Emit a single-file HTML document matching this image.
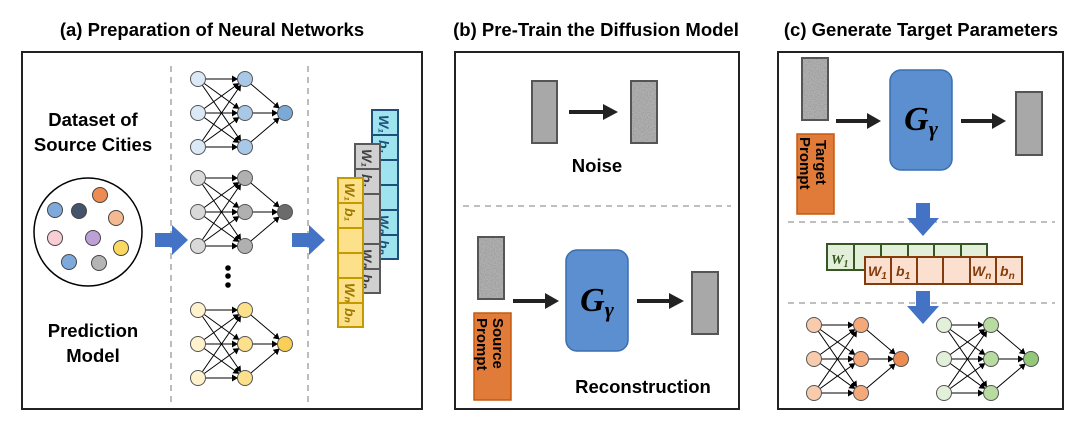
<!DOCTYPE html>
<html><head><meta charset="utf-8"><style>
html,body{margin:0;padding:0;background:#fff}
svg{display:block}
text{font-family:"Liberation Sans",sans-serif}
.t{font-weight:bold;font-size:18.5px;text-anchor:middle}
.m{font-family:"Liberation Serif",serif;font-style:italic;font-weight:bold}
</style></head><body>
<svg width="1080" height="427" viewBox="0 0 1080 427" xmlns="http://www.w3.org/2000/svg">
<defs>
<filter id="nz" x="0" y="0" width="100%" height="100%">
<feTurbulence type="fractalNoise" baseFrequency="0.8" numOctaves="2" seed="3"/>
<feColorMatrix type="matrix" values="0 0 0 0 0.35  0 0 0 0 0.35  0 0 0 0 0.35  0 0 0 -4 2.4"/>
</filter>
<marker id="ah" markerUnits="userSpaceOnUse" markerWidth="8" markerHeight="8" refX="13" refY="3.5" orient="auto">
<path d="M0,0 L6,3.5 L0,7 z" fill="#000"/>
</marker>
<g id="net" stroke="#000" stroke-width="1" fill="none">
<line x1="0" y1="-34" x2="47" y2="-34" marker-end="url(#ah)"/>
<line x1="0" y1="-34" x2="47" y2="0" marker-end="url(#ah)"/>
<line x1="0" y1="-34" x2="47" y2="34" marker-end="url(#ah)"/>
<line x1="0" y1="0" x2="47" y2="-34" marker-end="url(#ah)"/>
<line x1="0" y1="0" x2="47" y2="0" marker-end="url(#ah)"/>
<line x1="0" y1="0" x2="47" y2="34" marker-end="url(#ah)"/>
<line x1="0" y1="34" x2="47" y2="-34" marker-end="url(#ah)"/>
<line x1="0" y1="34" x2="47" y2="0" marker-end="url(#ah)"/>
<line x1="0" y1="34" x2="47" y2="34" marker-end="url(#ah)"/>
<line x1="47" y1="-34" x2="87" y2="0" marker-end="url(#ah)"/>
<line x1="47" y1="0" x2="87" y2="0" marker-end="url(#ah)"/>
<line x1="47" y1="34" x2="87" y2="0" marker-end="url(#ah)"/>
</g>
<g id="noise"><rect x="0" y="0" width="26" height="62" fill="#b0b0b0"/><rect x="0" y="0" width="26" height="62" filter="url(#nz)"/><rect x="0" y="0" width="26" height="62" fill="none" stroke="#555" stroke-width="2"/></g>
</defs>

<!-- titles -->
<text class="t" x="212" y="36">(a) Preparation of Neural Networks</text>
<text class="t" x="596" y="36">(b) Pre-Train the Diffusion Model</text>
<text class="t" x="921" y="36">(c) Generate Target Parameters</text>

<!-- Panel a -->
<rect x="22" y="52" width="400" height="357" fill="#fff" stroke="#222" stroke-width="2"/>
<line x1="171" y1="66" x2="171" y2="402" stroke="#999" stroke-width="1.3" stroke-dasharray="6,5"/>
<line x1="308" y1="66" x2="308" y2="402" stroke="#999" stroke-width="1.3" stroke-dasharray="6,5"/>
<text class="t" x="93" y="126">Dataset of</text>
<text class="t" x="93" y="151">Source Cities</text>
<text class="t" x="93" y="337">Prediction</text>
<text class="t" x="93" y="362">Model</text>
<circle cx="88" cy="232" r="54" fill="#fff" stroke="#000" stroke-width="1.5"/>
<g stroke="#444" stroke-width="1">
<circle cx="55" cy="210" r="7.5" fill="#7eaadb"/>
<circle cx="79" cy="211" r="7.5" fill="#44546a"/>
<circle cx="100" cy="195" r="7.5" fill="#ed8c52"/>
<circle cx="116" cy="218" r="7.5" fill="#f4b990"/>
<circle cx="55" cy="238" r="7.5" fill="#f8cdd3"/>
<circle cx="93" cy="238" r="7.5" fill="#bca0d6"/>
<circle cx="121" cy="248" r="7.5" fill="#fbd864"/>
<circle cx="69" cy="262" r="7.5" fill="#7eaadb"/>
<circle cx="99" cy="263" r="7.5" fill="#b5b5b5"/>
</g>
<polygon points="155,233 172,233 172,225 188,240 172,255 172,247 155,247" fill="#4472c4"/>
<polygon points="292,233 309,233 309,225 325,240 309,255 309,247 292,247" fill="#4472c4"/>

<use href="#net" x="198" y="113"/>
<use href="#net" x="198" y="212"/>
<use href="#net" x="198" y="344"/>
<g stroke="#555" stroke-width="1">
<circle cx="198" cy="79" r="7.5" fill="#dbe9f7"/><circle cx="198" cy="113" r="7.5" fill="#dbe9f7"/><circle cx="198" cy="147" r="7.5" fill="#dbe9f7"/>
<circle cx="245" cy="79" r="7.5" fill="#a9c8e8"/><circle cx="245" cy="113" r="7.5" fill="#a9c8e8"/><circle cx="245" cy="147" r="7.5" fill="#a9c8e8"/>
<circle cx="285" cy="113" r="7.5" fill="#7baad8"/>
<circle cx="198" cy="178" r="7.5" fill="#d9d9d9"/><circle cx="198" cy="212" r="7.5" fill="#d9d9d9"/><circle cx="198" cy="246" r="7.5" fill="#d9d9d9"/>
<circle cx="245" cy="178" r="7.5" fill="#b0b0b0"/><circle cx="245" cy="212" r="7.5" fill="#b0b0b0"/><circle cx="245" cy="246" r="7.5" fill="#b0b0b0"/>
<circle cx="285" cy="212" r="7.5" fill="#6b6b6b"/>
<circle cx="198" cy="310" r="7.5" fill="#fff2cc"/><circle cx="198" cy="344" r="7.5" fill="#fff2cc"/><circle cx="198" cy="378" r="7.5" fill="#fff2cc"/>
<circle cx="245" cy="310" r="7.5" fill="#fde08a"/><circle cx="245" cy="344" r="7.5" fill="#fde08a"/><circle cx="245" cy="378" r="7.5" fill="#fde08a"/>
<circle cx="285" cy="344" r="7.5" fill="#f9cf57"/>
</g>
<circle cx="228" cy="268" r="2.8" fill="#000"/><circle cx="228" cy="276" r="2.8" fill="#000"/><circle cx="228" cy="285" r="2.8" fill="#000"/>

<!-- param stacks -->
<g stroke="#1f4e79" stroke-width="2" fill="#9ee4ee">
<rect x="372" y="110" width="26" height="25"/><rect x="372" y="135" width="26" height="25"/><rect x="372" y="160" width="26" height="25"/><rect x="372" y="185" width="26" height="25"/><rect x="372" y="210" width="26" height="25"/><rect x="372" y="235" width="26" height="24"/>
</g>
<g font-family="Liberation Serif,serif" font-style="italic" font-weight="bold" font-size="14" fill="#1f4e79">
<text transform="translate(379,115) rotate(90)">W₁</text>
<text transform="translate(379,140) rotate(90)">b₁</text>
<text transform="translate(379,215) rotate(90)">Wₙ</text>
<text transform="translate(379,240) rotate(90)">bₙ</text>
</g>
<g stroke="#595959" stroke-width="2" fill="#d0d0d0">
<rect x="355" y="144" width="25" height="25"/><rect x="355" y="169" width="25" height="25"/><rect x="355" y="194" width="25" height="25"/><rect x="355" y="219" width="25" height="25"/><rect x="355" y="244" width="25" height="25"/><rect x="355" y="269" width="25" height="24"/>
</g>
<g font-family="Liberation Serif,serif" font-style="italic" font-weight="bold" font-size="14" fill="#404040">
<text transform="translate(362,149) rotate(90)">W₁</text>
<text transform="translate(362,174) rotate(90)">b₁</text>
<text transform="translate(362,249) rotate(90)">Wₙ</text>
<text transform="translate(362,274) rotate(90)">bₙ</text>
</g>
<g stroke="#c49a00" stroke-width="2" fill="#fde08a">
<rect x="338" y="178" width="25" height="25"/><rect x="338" y="203" width="25" height="25"/><rect x="338" y="228" width="25" height="25"/><rect x="338" y="253" width="25" height="25"/><rect x="338" y="278" width="25" height="25"/><rect x="338" y="303" width="25" height="24"/>
</g>
<g font-family="Liberation Serif,serif" font-style="italic" font-weight="bold" font-size="14" fill="#9c7a00">
<text transform="translate(345,183) rotate(90)">W₁</text>
<text transform="translate(345,208) rotate(90)">b₁</text>
<text transform="translate(345,283) rotate(90)">Wₙ</text>
<text transform="translate(345,308) rotate(90)">bₙ</text>
</g>

<!-- Panel b -->
<rect x="455" y="52" width="284" height="357" fill="#fff" stroke="#222" stroke-width="2"/>
<rect x="532" y="81" width="25" height="62" fill="#a8a8a8" stroke="#555" stroke-width="2"/>
<line x1="569" y1="112" x2="605" y2="112" stroke="#222" stroke-width="4"/>
<polygon points="603,104 618,112 603,120" fill="#222"/>
<use href="#noise" x="631" y="81"/>
<text class="t" x="597" y="172">Noise</text>
<line x1="463" y1="206" x2="731" y2="206" stroke="#999" stroke-width="1.3" stroke-dasharray="6,5"/>
<use href="#noise" x="478" y="237"/>
<rect x="474" y="313" width="37" height="87" fill="#e07b39" stroke="#c55a11" stroke-width="1.5"/>
<text transform="translate(493,318) rotate(90)" font-weight="bold" font-size="15" fill="#000">Source</text>
<text transform="translate(477,318) rotate(90)" font-weight="bold" font-size="15" fill="#000">Prompt</text>
<line x1="513" y1="301" x2="547" y2="301" stroke="#222" stroke-width="4"/>
<polygon points="545,293 559,301 545,309" fill="#222"/>
<rect x="566" y="250" width="62" height="101" rx="11" fill="#5b8fcf" stroke="#3a6fb0" stroke-width="1.5"/>
<text class="m" x="597" y="311" font-size="34" text-anchor="middle">G<tspan font-size="22" dy="6">γ</tspan></text>
<line x1="637" y1="301" x2="671" y2="301" stroke="#222" stroke-width="4"/>
<polygon points="669,293 684,301 669,309" fill="#222"/>
<rect x="692" y="272" width="26" height="62" fill="#a8a8a8" stroke="#555" stroke-width="2"/>
<text class="t" x="643" y="393">Reconstruction</text>

<!-- Panel c -->
<rect x="778" y="52" width="285" height="357" fill="#fff" stroke="#222" stroke-width="2"/>
<use href="#noise" x="802" y="58"/>
<rect x="797" y="134" width="37" height="80" fill="#e07b39" stroke="#c55a11" stroke-width="1.5"/>
<text transform="translate(816,140) rotate(90)" font-weight="bold" font-size="15" fill="#000">Target</text>
<text transform="translate(800,137) rotate(90)" font-weight="bold" font-size="15" fill="#000">Prompt</text>
<line x1="836" y1="121" x2="869" y2="121" stroke="#222" stroke-width="4"/>
<polygon points="867,113 881,121 867,129" fill="#222"/>
<rect x="890" y="70" width="62" height="100" rx="11" fill="#5b8fcf" stroke="#3a6fb0" stroke-width="1.5"/>
<text class="m" x="921" y="130" font-size="34" text-anchor="middle">G<tspan font-size="22" dy="6">γ</tspan></text>
<line x1="961" y1="121" x2="994" y2="121" stroke="#222" stroke-width="4"/>
<polygon points="992,113 1006,121 992,129" fill="#222"/>
<rect x="1016" y="92" width="26" height="63" fill="#a8a8a8" stroke="#555" stroke-width="2"/>
<line x1="788" y1="222" x2="1055" y2="222" stroke="#999" stroke-width="1.3" stroke-dasharray="6,5"/>
<line x1="788" y1="303" x2="1055" y2="303" stroke="#999" stroke-width="1.3" stroke-dasharray="6,5"/>
<polygon points="916,203 930,203 930,218 939,218 923,236 907,218 916,218" fill="#4472c4"/>
<polygon points="916,291 930,291 930,306 939,306 923,324 907,306 916,306" fill="#4472c4"/>
<g stroke="#375623" stroke-width="2" fill="#e2f0d9">
<rect x="827" y="244" width="27" height="26"/><rect x="854" y="244" width="27" height="26"/><rect x="881" y="244" width="27" height="26"/><rect x="908" y="244" width="26" height="26"/><rect x="934" y="244" width="27" height="26"/><rect x="961" y="244" width="26" height="26"/>
</g>
<text x="831" y="264" class="m" font-size="14" fill="#375623">W<tspan font-size="10" dy="3">1</tspan></text>
<g stroke="#843c0c" stroke-width="2" fill="#fbe0cf">
<rect x="865" y="257" width="26" height="27"/><rect x="891" y="257" width="26" height="27"/><rect x="917" y="257" width="26" height="27"/><rect x="943" y="257" width="27" height="27"/><rect x="970" y="257" width="26" height="27"/><rect x="996" y="257" width="26" height="27"/>
</g>
<g class="m" font-size="14" fill="#843c0c">
<text x="868" y="276">W<tspan font-size="10" dy="3">1</tspan></text>
<text x="896" y="276">b<tspan font-size="10" dy="3">1</tspan></text>
<text x="972" y="276">W<tspan font-size="10" dy="3">n</tspan></text>
<text x="1000" y="276">b<tspan font-size="10" dy="3">n</tspan></text>
</g>
<use href="#net" x="814" y="359"/>
<use href="#net" x="944" y="359"/>
<g stroke="#555" stroke-width="1">
<circle cx="814" cy="325" r="7.5" fill="#f8cbad"/><circle cx="814" cy="359" r="7.5" fill="#f8cbad"/><circle cx="814" cy="393" r="7.5" fill="#f8cbad"/>
<circle cx="861" cy="325" r="7.5" fill="#f4a97a"/><circle cx="861" cy="359" r="7.5" fill="#f4a97a"/><circle cx="861" cy="393" r="7.5" fill="#f4a97a"/>
<circle cx="901" cy="359" r="7.5" fill="#ed8c52"/>
<circle cx="944" cy="325" r="7.5" fill="#e2f0d9"/><circle cx="944" cy="359" r="7.5" fill="#e2f0d9"/><circle cx="944" cy="393" r="7.5" fill="#e2f0d9"/>
<circle cx="991" cy="325" r="7.5" fill="#b7dba0"/><circle cx="991" cy="359" r="7.5" fill="#b7dba0"/><circle cx="991" cy="393" r="7.5" fill="#b7dba0"/>
<circle cx="1031" cy="359" r="7.5" fill="#92c87a"/>
</g>
</svg>
</body></html>
